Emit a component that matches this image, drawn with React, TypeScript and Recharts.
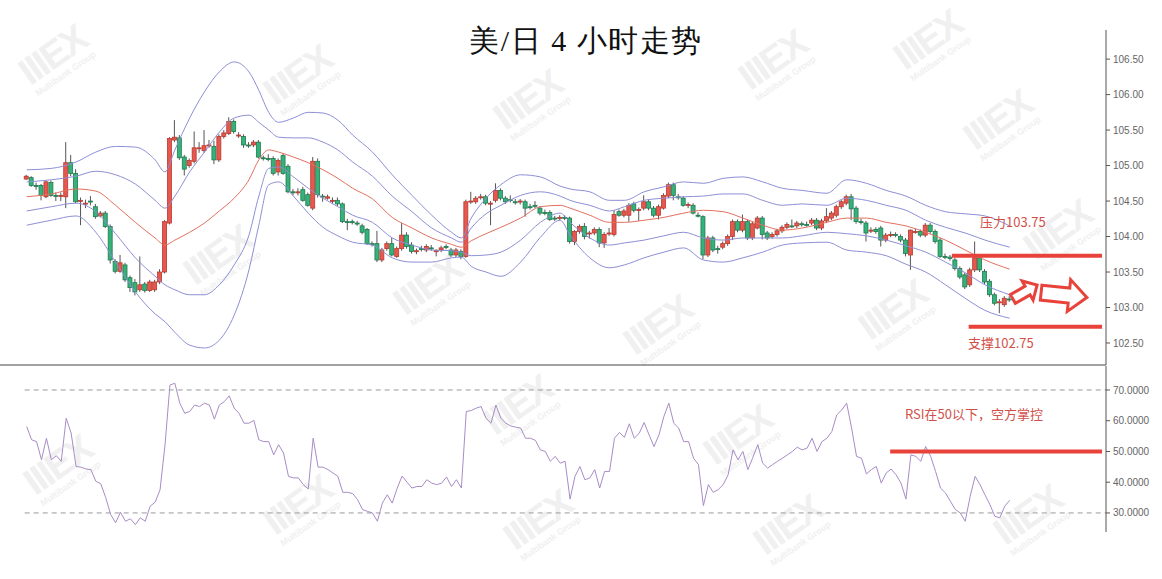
import React from "react";
import { Bar, ComposedChart, Line, ReferenceLine, XAxis, YAxis } from "recharts";

// 4h candles (price units)
const open = [
  104.81, 104.83, 104.72, 104.72, 104.56, 104.76, 104.58, 104.57, 104.56, 105.04,
  104.89, 104.5, 104.46, 104.5, 104.42, 104.29, 104.33, 104.14, 103.65, 103.51,
  103.6, 103.42, 103.35, 103.25, 103.33, 103.24, 103.25, 103.36, 103.5, 104.19,
  105.36, 105.39, 105.12, 105.0, 105.06, 105.24, 105.21, 105.28, 105.27, 105.08,
  105.41, 105.45, 105.62, 105.42, 105.41, 105.29, 105.29, 105.33, 105.11, 105.1,
  105.1, 104.91, 105.14, 104.99, 104.63, 104.62, 104.66, 104.59, 104.4, 105.06,
  104.57, 104.54, 104.51, 104.51, 104.46, 104.21, 104.21, 104.19, 104.15, 104.1,
  103.9, 103.9, 103.67, 103.83, 103.9, 103.72, 103.83, 104.02, 103.88, 103.79,
  103.83, 103.81, 103.84, 103.79, 103.81, 103.86, 103.81, 103.74, 103.79, 103.72,
  104.49, 104.49, 104.55, 104.56, 104.46, 104.51, 104.65, 104.54, 104.52, 104.49,
  104.49, 104.49, 104.42, 104.44, 104.4, 104.34, 104.34, 104.26, 104.26, 104.27,
  104.26, 103.93, 104.07, 104.14, 104.04, 104.05, 104.1, 103.91, 104.04, 104.03,
  104.35, 104.3, 104.3, 104.46, 104.37, 104.4, 104.49, 104.4, 104.3, 104.4,
  104.57, 104.73, 104.56, 104.54, 104.44, 104.44, 104.3, 104.28, 103.74, 103.98,
  103.83, 103.85, 103.9, 104.0, 104.21, 104.09, 104.21, 103.98, 104.12, 104.26,
  104.05, 104.0, 104.03, 104.08, 104.13, 104.15, 104.15, 104.18, 104.17, 104.19,
  104.23, 104.12, 104.22, 104.26, 104.3, 104.42, 104.47, 104.56, 104.4, 104.21,
  104.19, 104.08, 104.1, 104.12, 103.95, 104.02, 104.03, 104.0, 103.95, 103.74,
  104.07, 104.07, 104.02, 104.16, 104.07, 103.95, 103.72, 103.71, 103.67, 103.55,
  103.46, 103.32, 103.53, 103.7, 103.51, 103.37, 103.18, 103.07, 103.04, 103.12,
];
const high = [
  104.87, 104.85, 104.76, 104.74, 104.79, 104.79, 104.62, 104.62, 105.33, 105.15,
  104.95, 104.55, 104.52, 104.57, 104.46, 104.36, 104.36, 104.17, 103.68, 103.74,
  103.63, 103.45, 103.4, 103.72, 103.36, 103.39, 103.39, 103.54, 104.23, 105.4,
  105.64, 105.43, 105.15, 105.1, 105.48, 105.33, 105.5, 105.36, 105.35, 105.44,
  105.5, 105.68, 105.65, 105.47, 105.44, 105.33, 105.36, 105.36, 105.14, 105.16,
  105.13, 105.1, 105.17, 105.02, 104.67, 104.68, 104.7, 104.62, 105.12, 105.1,
  104.6, 104.59, 104.55, 104.55, 104.48, 104.25, 104.24, 104.22, 104.18, 104.12,
  103.93, 104.08, 103.84, 103.93, 103.98, 103.86, 104.19, 104.06, 103.92, 103.83,
  103.87, 103.89, 103.88, 103.82, 103.87, 103.89, 103.84, 103.84, 103.82, 104.52,
  104.63, 104.57, 104.6, 104.59, 104.5, 104.75, 104.68, 104.57, 104.58, 104.53,
  104.53, 104.52, 104.46, 104.5, 104.43, 104.38, 104.37, 104.29, 104.3, 104.3,
  104.28, 104.09, 104.17, 104.19, 104.08, 104.13, 104.13, 104.06, 104.12, 104.37,
  104.38, 104.39, 104.47, 104.49, 104.41, 104.58, 104.52, 104.43, 104.45, 104.61,
  104.76, 104.76, 104.6, 104.57, 104.48, 104.47, 104.34, 104.3, 104.01, 104.01,
  103.87, 103.93, 104.03, 104.24, 104.24, 104.31, 104.24, 104.21, 104.29, 104.29,
  104.08, 104.06, 104.11, 104.16, 104.2, 104.24, 104.22, 104.21, 104.21, 104.26,
  104.26, 104.25, 104.4, 104.36, 104.45, 104.52, 104.59, 104.6, 104.43, 104.25,
  104.22, 104.13, 104.13, 104.15, 104.05, 104.07, 104.06, 104.03, 103.98, 104.1,
  104.11, 104.1, 104.19, 104.19, 104.1, 103.98, 103.76, 103.74, 103.7, 103.58,
  103.49, 103.56, 103.93, 103.73, 103.54, 103.4, 103.21, 103.12, 103.16, 103.16,
];
const low = [
  104.8, 104.7, 104.66, 104.51, 104.54, 104.56, 104.5, 104.5, 104.4, 104.85,
  104.47, 104.16, 104.4, 104.44, 104.25, 104.27, 104.12, 103.62, 103.48, 103.49,
  103.36, 103.22, 103.17, 103.22, 103.21, 103.22, 103.22, 103.33, 103.48, 104.17,
  105.33, 105.08, 104.86, 104.97, 105.03, 105.18, 105.18, 105.25, 105.02, 105.05,
  105.38, 105.43, 105.45, 105.39, 105.25, 105.25, 105.26, 105.1, 105.07, 105.06,
  104.86, 104.86, 104.87, 104.61, 104.58, 104.58, 104.49, 104.42, 104.37, 104.55,
  104.49, 104.52, 104.46, 104.43, 104.19, 104.09, 104.17, 104.15, 104.03, 103.88,
  103.86, 103.64, 103.64, 103.8, 103.72, 103.7, 103.8, 103.83, 103.76, 103.75,
  103.79, 103.78, 103.8, 103.72, 103.78, 103.82, 103.71, 103.71, 103.68, 103.7,
  104.46, 104.46, 104.52, 104.44, 104.16, 104.48, 104.51, 104.46, 104.48, 104.45,
  104.45, 104.28, 104.38, 104.4, 104.3, 104.3, 104.22, 104.22, 104.23, 104.23,
  103.9, 103.88, 104.04, 103.96, 103.97, 104.02, 103.85, 103.84, 104.01, 104.0,
  104.28, 104.27, 104.21, 104.34, 104.22, 104.37, 104.37, 104.27, 104.24, 104.38,
  104.54, 104.51, 104.52, 104.42, 104.4, 104.31, 104.27, 103.68, 103.71, 103.78,
  103.76, 103.82, 103.87, 103.95, 104.06, 104.06, 103.95, 103.95, 104.1, 103.96,
  103.95, 103.97, 104.0, 104.05, 104.1, 104.12, 104.12, 104.14, 104.14, 104.16,
  104.09, 104.09, 104.19, 104.23, 104.27, 104.39, 104.44, 104.23, 104.18, 104.17,
  103.93, 104.05, 104.04, 103.86, 103.92, 103.99, 103.99, 103.92, 103.72, 103.53,
  104.04, 103.99, 103.99, 104.04, 103.9, 103.7, 103.68, 103.66, 103.52, 103.4,
  103.26, 103.29, 103.5, 103.5, 103.33, 103.15, 103.03, 102.92, 103.01, 103.08,
];
const close = [
  104.85, 104.72, 104.71, 104.58, 104.77, 104.58, 104.57, 104.58, 105.04, 104.89,
  104.49, 104.51, 104.47, 104.49, 104.28, 104.33, 104.14, 103.67, 103.51, 103.63,
  103.39, 103.28, 103.22, 103.32, 103.24, 103.36, 103.36, 103.5, 104.21, 105.38,
  105.4, 105.11, 104.95, 105.07, 105.25, 105.25, 105.28, 105.29, 105.08, 105.41,
  105.46, 105.62, 105.48, 105.43, 105.29, 105.28, 105.33, 105.12, 105.1, 105.09,
  104.89, 105.07, 104.89, 104.63, 104.62, 104.63, 104.51, 104.44, 105.06, 104.59,
  104.56, 104.56, 104.51, 104.46, 104.21, 104.2, 104.2, 104.18, 104.06, 103.9,
  103.89, 103.67, 103.81, 103.9, 103.74, 103.83, 104.02, 103.86, 103.79, 103.8,
  103.82, 103.86, 103.83, 103.8, 103.84, 103.85, 103.74, 103.81, 103.72, 104.49,
  104.5, 104.54, 104.56, 104.47, 104.47, 104.65, 104.54, 104.49, 104.51, 104.48,
  104.5, 104.4, 104.41, 104.43, 104.33, 104.33, 104.24, 104.25, 104.27, 104.26,
  103.93, 104.07, 104.14, 104.0, 104.05, 104.1, 103.91, 104.03, 104.05, 104.31,
  104.3, 104.36, 104.44, 104.37, 104.38, 104.49, 104.4, 104.3, 104.42, 104.58,
  104.73, 104.58, 104.55, 104.44, 104.45, 104.33, 104.29, 103.74, 103.98, 103.81,
  103.82, 103.9, 104.0, 104.21, 104.09, 104.21, 103.98, 104.18, 104.26, 104.03,
  103.98, 104.03, 104.08, 104.13, 104.17, 104.14, 104.19, 104.17, 104.16, 104.23,
  104.12, 104.22, 104.28, 104.33, 104.42, 104.49, 104.56, 104.39, 104.21, 104.2,
  104.05, 104.09, 104.07, 103.95, 104.02, 104.03, 104.02, 103.95, 103.76, 104.09,
  104.07, 104.02, 104.16, 104.07, 103.93, 103.72, 103.71, 103.69, 103.55, 103.43,
  103.29, 103.53, 103.7, 103.53, 103.36, 103.18, 103.06, 103.08, 103.13, 103.11,
];

// RSI per candle
const rsi = [
  58.1, 53.8, 53.2, 47.3, 54.3, 47.3, 48.6, 46.8, 60.8, 56,
  45.1, 44.9, 44.3, 44.1, 40.3, 39.5, 35, 29.5, 26.8, 30.2,
  27.3, 28.1, 26.2, 28.4, 27.3, 32.2, 33.5, 37.5, 52, 71.6,
  72.2, 65.7, 62.4, 63, 65.1, 64.6, 65.7, 65.1, 60.5, 65.1,
  66.2, 68.1, 64.1, 62.4, 59.2, 59.2, 60.1, 53.8, 53.2, 53.2,
  48.9, 52.2, 49.5, 41.9, 41.4, 41.4, 39.2, 37.8, 54.3, 44.9,
  44.9, 44.1, 43, 41.9, 36.7, 36.7, 36.3, 34.3, 31.1, 30.5,
  30, 27.3, 33.2, 35.9, 33.2, 38, 42, 40, 38.1, 38.6,
  38.6, 40.8, 39.7, 39.2, 39.7, 41.7, 38.6, 40.8, 38.1, 63,
  63.3, 64.1, 64.6, 60.8, 59.2, 65.1, 60.8, 59.2, 58.3, 57.9,
  57.6, 54.3, 54.3, 53.6, 50.5, 50, 46.8, 48.4, 46.2, 46.8,
  34.5, 41.9, 45.1, 40.8, 41.4, 44.1, 38.1, 43.5, 43.5, 54.3,
  56.2, 54.6, 59, 54.3, 55.9, 59.4, 55.4, 51.6, 55.4, 61.4,
  65.7, 59.2, 57.6, 53.2, 53.2, 47.8, 45.7, 32.4, 39.2, 36.7,
  37.6, 39.2, 42.4, 50.5, 47.3, 50, 44.1, 48, 52.2, 46.2,
  44.6, 45.7, 46.8, 47.8, 48.9, 50, 51.4, 50.5, 51.1, 54.3,
  50, 53.2, 54.3, 56.5, 61.9, 63.5, 65.7, 57.6, 48.4, 47.8,
  42.7, 44.1, 45.1, 39.7, 43, 44.3, 42.4, 39.7, 34.5, 48.9,
  48.4, 46.8, 51.6, 48.4, 43.5, 38.1, 36.5, 33.8, 31.1, 30,
  27.3, 35.4, 41.9, 39.2, 35.9, 32.7, 28.9, 28.4, 32.2, 34.1,
];

// Bollinger lines, read at these candles
const bandIdx = [
  0, 5, 10, 14, 18, 22, 26, 28, 30, 33, 36, 39, 42, 45, 47, 49, 51, 54, 57, 60,
  63, 66, 70, 74, 78, 82, 86, 88, 90, 93, 96, 100, 104, 108, 110, 114, 118, 121, 125, 129,
  133, 137, 141, 145, 149, 153, 157, 162, 166, 170, 174, 178, 182, 186, 190, 194, 199,
];
const ub2 = [
  104.94, 104.96, 105.05, 105.19, 105.27, 105.26, 105.08, 104.91, 105.22, 105.67,
  106.04, 106.32, 106.46, 106.32, 106.06, 105.75, 105.61, 105.67, 105.75, 105.74,
  105.64, 105.43, 105.19, 104.87, 104.58, 104.3, 104.06, 103.98, 104.26, 104.54,
  104.73, 104.87, 104.84, 104.71, 104.67, 104.63, 104.51, 104.51, 104.63, 104.7,
  104.77, 104.75, 104.82, 104.84, 104.77, 104.68, 104.65, 104.61, 104.8, 104.75,
  104.65, 104.57, 104.44, 104.35, 104.32, 104.29, 104.15,
];
const ub1 = [
  104.77, 104.8, 104.85, 104.92, 104.87, 104.74, 104.51, 104.4, 104.57, 104.91,
  105.19, 105.47, 105.67, 105.71, 105.61, 105.5, 105.4, 105.39, 105.39, 105.33,
  105.22, 105.05, 104.85, 104.57, 104.35, 104.12, 103.98, 103.92, 104.12, 104.32,
  104.44, 104.58, 104.63, 104.57, 104.51, 104.44, 104.36, 104.42, 104.51, 104.54,
  104.56, 104.57, 104.6, 104.6, 104.51, 104.44, 104.46, 104.44, 104.54, 104.51,
  104.44, 104.37, 104.23, 104.13, 104.05, 103.95, 103.85,
];
const mid = [
  104.56, 104.6, 104.67, 104.64, 104.44, 104.2, 103.98, 103.88, 103.95, 104.06,
  104.19, 104.36, 104.54, 104.8, 105.08, 105.22, 105.19, 105.12, 105.04, 104.94,
  104.82, 104.68, 104.53, 104.27, 104.12, 103.98, 103.89, 103.85, 103.94, 104.04,
  104.13, 104.26, 104.42, 104.44, 104.4, 104.3, 104.2, 104.2, 104.23, 104.27,
  104.33, 104.37, 104.35, 104.26, 104.16, 104.09, 104.12, 104.2, 104.26, 104.26,
  104.2, 104.15, 104.06, 103.95, 103.81, 103.67, 103.54,
];
const lb1 = [
  104.36, 104.42, 104.47, 104.35, 104.04, 103.7, 103.44, 103.32, 103.25, 103.18,
  103.18, 103.32, 103.6, 104.02, 104.57, 104.96, 104.98, 104.84, 104.68, 104.54,
  104.42, 104.3, 104.2, 103.98, 103.88, 103.81, 103.8, 103.78, 103.73, 103.74,
  103.78, 103.95, 104.2, 104.33, 104.2, 103.98, 103.88, 103.91, 103.95, 104.01,
  104.06, 103.98, 103.95, 103.98, 103.98, 103.98, 104.01, 104.06, 104.04, 104.01,
  103.95, 103.87, 103.78, 103.64, 103.49, 103.32, 103.18,
];
const lb2 = [
  104.16, 104.23, 104.29, 104.06, 103.64, 103.22, 102.91, 102.8, 102.65, 102.47,
  102.43, 102.54, 102.89, 103.53, 104.16, 104.73, 104.77, 104.57, 104.33, 104.13,
  104.01, 103.92, 103.88, 103.7, 103.64, 103.64, 103.7, 103.71, 103.58, 103.5,
  103.44, 103.64, 103.99, 104.23, 104.02, 103.7, 103.56, 103.6, 103.7, 103.78,
  103.84, 103.67, 103.64, 103.7, 103.78, 103.88, 103.91, 103.92, 103.81, 103.78,
  103.73, 103.61, 103.5, 103.32, 103.13, 102.96, 102.85,
];

const priceTicks = [102.5, 103, 103.5, 104, 104.5, 105, 105.5, 106, 106.5];
const rsiTicks = [30, 40, 50, 60, 70];
const resistance = 103.73;
const support = 102.73;
const rsiMark = 50;

const rows: any[] = open.map((o, i) => ({
  i,
  o,
  h: high[i],
  l: low[i],
  c: close[i],
  range: [low[i], high[i]],
  rsi: rsi[i],
}));
bandIdx.forEach((idx, k) => {
  rows[idx].ub2 = ub2[k];
  rows[idx].ub1 = ub1[k];
  rows[idx].mid = mid[k];
  rows[idx].lb1 = lb1[k];
  rows[idx].lb2 = lb2[k];
});

const X_DOMAIN: [number, number] = [-5.4, 218.5];
const RED = "#e8433b";
const BAND = "#8d8fd6";
const tickStyle = { fill: "#666", fontSize: 10, fontFamily: "Liberation Sans, Arial, sans-serif" };

function Candle(props: any) {
  const { x, y, width, height, payload } = props;
  if (x == null || y == null) return null;
  const top = Math.min(y, y + height);
  const h = Math.abs(height);
  const { o, c } = payload;
  const hi = payload.h;
  const lo = payload.l;
  const span = hi - lo || 1e-6;
  const py = (v: number) => top + ((hi - v) / span) * h;
  const up = c >= o;
  const b0 = py(Math.max(o, c));
  const b1 = py(Math.min(o, c));
  const cx = x + width / 2;
  return (
    <g>
      <line x1={cx} x2={cx} y1={top} y2={top + h} stroke="#555" strokeWidth={1} />
      <rect
        x={x}
        y={b0}
        width={width}
        height={Math.max(1, b1 - b0)}
        fill={up ? "#e6584e" : "#35b27a"}
        stroke={up ? "#b8392f" : "#1f7a4f"}
        strokeWidth={0.8}
      />
    </g>
  );
}

function Arrow({ cx, cy, len, shaft, head, headLen, angle }: any) {
  const L = len / 2;
  const pts = [
    [-L, -shaft / 2],
    [L - headLen, -shaft / 2],
    [L - headLen, -head / 2],
    [L, 0],
    [L - headLen, head / 2],
    [L - headLen, shaft / 2],
    [-L, shaft / 2],
  ]
    .map((p) => p.join(","))
    .join(" ");
  return (
    <polygon
      points={pts}
      transform={`translate(${cx} ${cy}) rotate(${angle})`}
      fill="#fff"
      stroke={RED}
      strokeWidth={3}
      strokeLinejoin="miter"
    />
  );
}

// faint logo marks scattered over the chart
const marks = [
  [55, 60], [300, 80], [530, 105], [775, 65], [930, 45], [1000, 125],
  [220, 260], [430, 290], [660, 330], [895, 315], [1060, 235],
  [60, 470], [300, 510], [520, 410], [740, 440], [540, 525], [790, 530], [1030, 520],
];

function Watermarks() {
  return (
    <>
      {marks.map(([x, y], k) => (
        <div
          key={k}
          style={{
            position: "absolute",
            left: x - 50,
            top: y - 25,
            width: 100,
            textAlign: "center",
            transform: "rotate(-35deg)",
            color: "#f0f0f0",
            fontFamily: "Liberation Sans, Arial, sans-serif",
            fontWeight: 700,
            lineHeight: 1,
          }}
        >
          <div style={{ fontSize: 38, letterSpacing: -2 }}>IIIEX</div>
          <div style={{ fontSize: 9 }}>Multibank Group</div>
        </div>
      ))}
    </>
  );
}

const note = {
  position: "absolute" as const,
  color: "#d2504a",
  fontSize: 13,
  fontFamily: "'Noto Sans CJK SC', sans-serif",
  lineHeight: 1,
  whiteSpace: "nowrap" as const,
};

export default function App() {
  return (
    <div style={{ position: "absolute", left: 0, top: 0, width: 1162, height: 579, background: "#fff", overflow: "hidden" }}>
      <Watermarks />
      <div
        style={{
          position: "absolute",
          left: 0,
          top: 26,
          width: 1172,
          textAlign: "center",
          fontSize: 30,
          lineHeight: 1,
          letterSpacing: 1.5,
          color: "#111",
          fontFamily: "serif",
          fontWeight: 400,
        }}
      >
        美/日 4 小时走势
      </div>

      <div style={{ position: "absolute", left: 0, top: 0 }}>
        <ComposedChart width={1162} height={366} data={rows} margin={{ top: 30, right: 0, bottom: 0, left: 0 }}>
          <XAxis dataKey="i" type="number" domain={X_DOMAIN} allowDataOverflow tick={false} tickLine={false} height={1} axisLine={{ stroke: "#444" }} />
          <YAxis
            orientation="right"
            domain={[102.19, 106.91]}
            allowDataOverflow
            ticks={priceTicks}
            tickFormatter={(v: number) => v.toFixed(2)}
            width={56}
            tick={tickStyle}
            tickSize={4}
            tickMargin={3}
            axisLine={{ stroke: "#555" }}
            tickLine={{ stroke: "#555" }}
          />
          <Line type="monotone" dataKey="ub2" stroke={BAND} strokeWidth={1} dot={false} connectNulls isAnimationActive={false} />
          <Line type="monotone" dataKey="ub1" stroke={BAND} strokeWidth={1} dot={false} connectNulls isAnimationActive={false} />
          <Line type="monotone" dataKey="mid" stroke="#e2705f" strokeWidth={1} dot={false} connectNulls isAnimationActive={false} />
          <Line type="monotone" dataKey="lb1" stroke={BAND} strokeWidth={1} dot={false} connectNulls isAnimationActive={false} />
          <Line type="monotone" dataKey="lb2" stroke={BAND} strokeWidth={1} dot={false} connectNulls isAnimationActive={false} />
          <Bar dataKey="range" barSize={4} shape={<Candle />} isAnimationActive={false} />
          <ReferenceLine segment={[{ x: 187.3, y: resistance }, { x: 217.7, y: resistance }]} stroke={RED} strokeWidth={4} />
          <ReferenceLine segment={[{ x: 190.7, y: support }, { x: 217.7, y: support }]} stroke={RED} strokeWidth={4} />
        </ComposedChart>
      </div>

      <div style={{ position: "absolute", left: 0, top: 366 }}>
        <ComposedChart width={1162} height={213} data={rows} margin={{ top: 0, right: 0, bottom: 47, left: 0 }}>
          <XAxis dataKey="i" type="number" domain={X_DOMAIN} allowDataOverflow hide />
          <YAxis
            orientation="right"
            domain={[23.8, 77.8]}
            allowDataOverflow
            ticks={rsiTicks}
            tickFormatter={(v: number) => v.toFixed(4)}
            width={56}
            tick={tickStyle}
            tickSize={4}
            tickMargin={3}
            axisLine={{ stroke: "#555" }}
            tickLine={{ stroke: "#555" }}
          />
          <ReferenceLine segment={[{ x: -0.4, y: 70 }, { x: 218.5, y: 70 }]} stroke="#999" strokeDasharray="5 4" />
          <ReferenceLine segment={[{ x: -0.4, y: 30 }, { x: 218.5, y: 30 }]} stroke="#999" strokeDasharray="5 4" />
          <Line type="linear" dataKey="rsi" stroke="#a88cc6" strokeWidth={1} dot={false} connectNulls isAnimationActive={false} />
          <ReferenceLine segment={[{ x: 174.8, y: rsiMark }, { x: 217.7, y: rsiMark }]} stroke={RED} strokeWidth={4} />
        </ComposedChart>
      </div>

      <div style={{ ...note, left: 980, top: 215 }}>压力103.75</div>
      <div style={{ ...note, left: 968, top: 336 }}>支撑102.75</div>
      <div style={{ ...note, left: 905, top: 407 }}>RSI在50以下，空方掌控</div>

      <svg width={1162} height={579} style={{ position: "absolute", left: 0, top: 0, pointerEvents: "none" }}>
        <Arrow cx={1025} cy={292} len={28} shaft={10} head={22} headLen={11} angle={-30} />
        <Arrow cx={1064} cy={295} len={46} shaft={15} head={32} headLen={18} angle={6} />
      </svg>
    </div>
  );
}
